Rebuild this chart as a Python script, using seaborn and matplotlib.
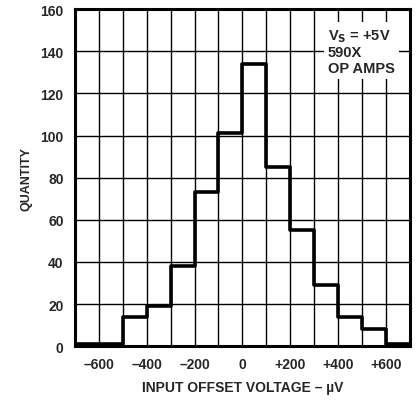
import matplotlib
matplotlib.use("Agg")
import matplotlib.pyplot as plt
import seaborn as sns
import numpy as np
import pandas as pd

bin_left = [-700, -600, -500, -400, -300, -200, -100, 0, 100, 200, 300, 400, 500, 600]
quantity = [1, 1, 14, 19, 38, 73, 101, 134, 85, 55, 29, 14, 8, 1]
bin_edges = [-700, -600, -500, -400, -300, -200, -100, 0, 100, 200, 300, 400, 500, 600, 700]
xtick_vals = [-600, -400, -200, 0, 200, 400, 600]
xtick_labels = ["–600", "–400", "–200", "0", "+200", "+400", "+600"]
ytick_vals = [0, 20, 40, 60, 80, 100, 120, 140, 160]

sns.set_style("white")
plt.rcParams['font.family'] = ['Liberation Sans', 'DejaVu Sans']

df = pd.DataFrame({"voltage": [b + 50 for b in bin_left], "quantity": quantity})

fig = plt.figure(figsize=(4.18, 4.06), dpi=100)
ax = fig.add_axes([0.179, 0.145, 0.802, 0.830])

sns.histplot(data=df, x="voltage", weights="quantity", bins=bin_edges,
             element="step", fill=False, color="black", linewidth=2.6, ax=ax, zorder=3)

ax.set_xlim(-700, 700)
ax.set_ylim(0, 160)
ax.set_xticks(xtick_vals)
ax.set_xticklabels(xtick_labels, fontweight="bold", fontsize=10)
ax.set_xticks(np.arange(-700, 701, 100), minor=True)
ax.set_yticks(ytick_vals)
ax.set_yticklabels([str(v) for v in ytick_vals], fontweight="bold", fontsize=10)
ax.grid(True, which="both", color="black", linewidth=1.0, zorder=1)
ax.set_axisbelow(True)
ax.tick_params(axis="both", which="both", length=0, pad=8)

for s in ax.spines.values():
    s.set_visible(True)
    s.set_color("black")
    s.set_linewidth(2.2)

ax.set_xlabel("INPUT OFFSET VOLTAGE – µV", fontweight="bold", fontsize=10, labelpad=6)
ax.set_ylabel("QUANTITY", fontweight="bold", fontsize=9, labelpad=6)

ax.text(0.755, 0.945, "V$_\\mathbf{S}$ = +5V\n590X\nOP AMPS", transform=ax.transAxes,
        ha="left", va="top", multialignment="left", fontweight="bold", fontsize=10.5,
        linespacing=1.1,
        bbox=dict(facecolor="white", edgecolor="none", pad=3), zorder=4)

fig.savefig("out.png", dpi=100)
